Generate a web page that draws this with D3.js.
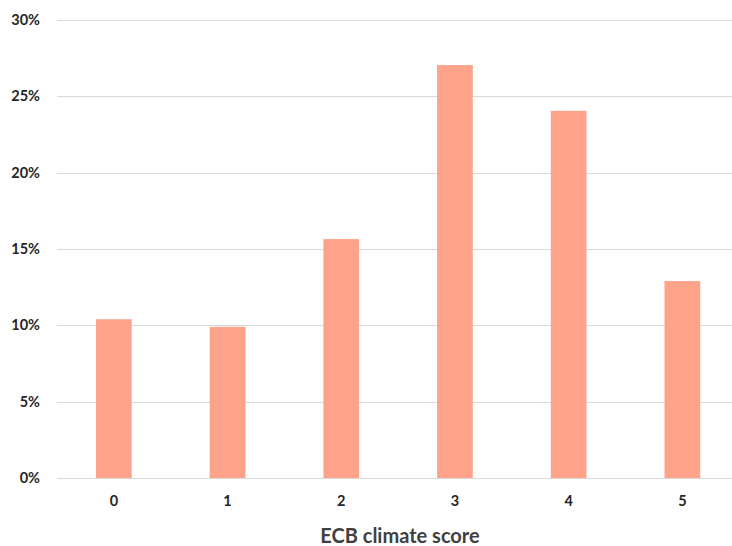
<!DOCTYPE html>
<html>
<head>
<meta charset="utf-8">
<script src="https://cdn.jsdelivr.net/npm/d3@7"></script>
<style>
  html, body { margin: 0; padding: 0; background: #fff; }
  svg { display: block; }
  text { font-family: Lato, "Open Sans", sans-serif; font-weight: 700; }
</style>
</head>
<body>
<svg id="chart" width="732" height="546"></svg>
<script>
// Share of items by ECB climate score (percent)
const categories = ["0", "1", "2", "3", "4", "5"];
const shares = [10.4, 9.9, 15.65, 27.05, 24.05, 12.9];
const yTicks = [0, 5, 10, 15, 20, 25, 30];
const xTitle = "ECB climate score";

const svg = d3.select("#chart");
const plotLeft = 57, plotRight = 739.2, plotTop = 20, plotBottom = 478;

const x = d3.scaleBand()
  .domain(categories)
  .range([plotLeft, plotRight])
  .paddingInner(0.686)
  .paddingOuter(0.343);

const y = d3.scaleLinear().domain([0, 30]).range([plotBottom, plotTop]);

// horizontal gridlines
svg.append("g")
  .selectAll("line")
  .data(yTicks)
  .join("line")
  .attr("x1", plotLeft)
  .attr("x2", 732)
  .attr("y1", d => Math.round(y(d)) + 0.5)
  .attr("y2", d => Math.round(y(d)) + 0.5)
  .attr("stroke", "#d9d9d9")
  .attr("stroke-width", 1.2);

// y axis labels
const yAxis = svg.append("g")
  .attr("transform", `translate(${plotLeft},0)`)
  .call(d3.axisLeft(y).tickValues(yTicks).tickFormat(d => d + "%").tickSize(0).tickPadding(17));
yAxis.select(".domain").remove();
yAxis.selectAll("text")
  .attr("font-size", 14.5)
  .attr("fill", "#262626")
  .style("font-family", "Lato, 'Open Sans', sans-serif")
  .style("font-weight", 700);

// bars
svg.append("g")
  .selectAll("rect")
  .data(shares)
  .join("rect")
  .attr("x", (d, i) => x(categories[i]))
  .attr("width", x.bandwidth())
  .attr("y", d => y(d))
  .attr("height", d => y(0) - y(d))
  .attr("fill", "#ffa28a");

// x axis labels
const xAxis = svg.append("g")
  .attr("transform", `translate(0,${plotBottom})`)
  .call(d3.axisBottom(x).tickSize(0).tickPadding(18));
xAxis.select(".domain").remove();
xAxis.selectAll("text")
  .attr("font-size", 14.5)
  .attr("fill", "#262626")
  .style("font-family", "Lato, 'Open Sans', sans-serif")
  .style("font-weight", 700);

// x axis title
svg.append("text")
  .attr("x", 400)
  .attr("y", 543)
  .attr("text-anchor", "middle")
  .attr("font-size", 20)
  .attr("fill", "#404040")
  .text(xTitle);
</script>
</body>
</html>
